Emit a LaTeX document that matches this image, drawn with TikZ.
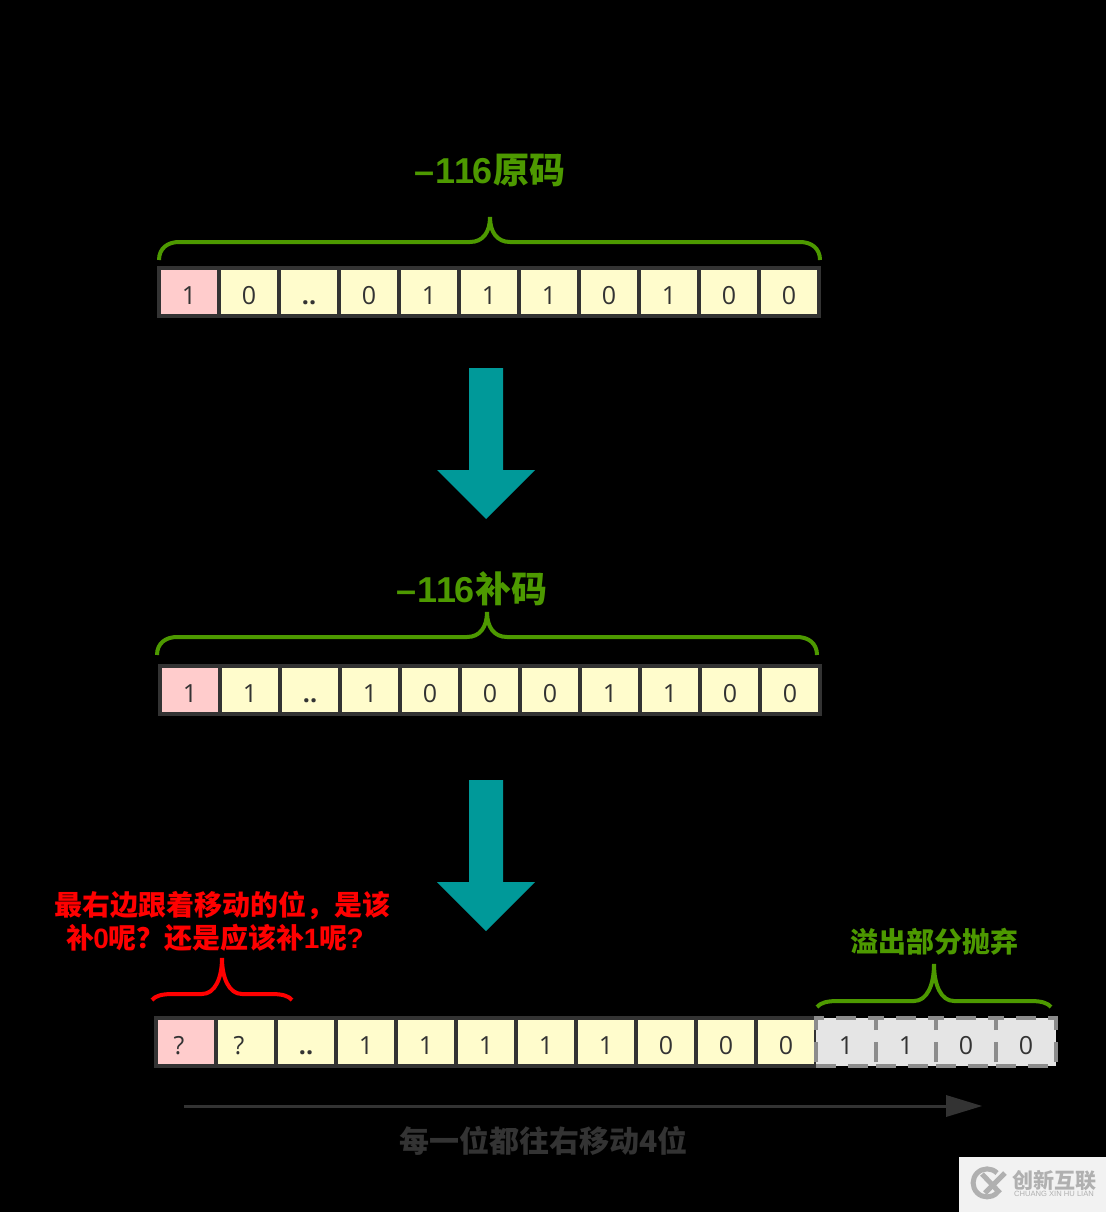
\documentclass[tikz,border=0pt]{standalone}
\usepackage{fontspec}
\setmainfont{Open Sans}
\newfontfamily\cjk{Noto Sans CJK SC}
\newfontfamily\lat{Liberation Sans}
\definecolor{gr}{HTML}{4D9900}
\definecolor{tealc}{HTML}{009999}
\definecolor{dk}{HTML}{333333}
\definecolor{wm}{HTML}{B0B0B0}
\tikzset{
  x=1pt,y=-1pt,
  cell/.style={draw=dk,line width=4pt,minimum width=60pt,minimum height=48pt,inner sep=0pt,outer sep=0pt,
    text=dk,font=\fontsize{25}{25}\selectfont,text height=24pt,text depth=0pt,anchor=center},
  yc/.style={cell,fill=yellow!20!white},
  pk/.style={cell,fill=red!20!white},
  gy/.style={cell,fill=black!10!white,draw=black!45!white,dash pattern=on 20pt off 12pt},
  bracegreen/.style={draw=gr,line width=4pt},
  bracered/.style={draw=red,line width=4pt},
  blockarrow/.style={fill=tealc,draw=none},
  greentitle/.style={text=gr,font=\cjk\bfseries\fontsize{36}{36}\selectfont,inner sep=0pt},
  greenlabel/.style={text=gr,font=\cjk\bfseries\fontsize{28}{28}\selectfont,inner sep=0pt},
  redlabel/.style={text=red,font=\cjk\bfseries\fontsize{28}{28}\selectfont,inner sep=0pt},
  graylabel/.style={text=dk,font=\cjk\bfseries\fontsize{30}{30}\selectfont,inner sep=0pt},
}
\newcommand{\minusnum}{{\lat\bfseries –\kern1pt 1\kern-2pt 1\kern-2pt 6}}
\newcommand{\dotsmark}{{\bfseries ..}}
\begin{document}
\begin{tikzpicture}
\useasboundingbox (0,0) rectangle (1106,1212);
\fill[black] (0,0) rectangle (1106,1212);

% row 1
\node[greentitle] (t1) at (490,171) {\minusnum\kern1pt 原码};
\draw[bracegreen] (159,260) .. controls (159,248) and (168,242) .. (179,242) -- (470,242)
  .. controls (483,242) and (490,232) .. (490,217) .. controls (490,232) and (497,242) .. (510,242)
  -- (800,242) .. controls (811,242) and (820,248) .. (820,260);
\foreach \i/\v/\s in {0/1/pk,1/0/yc,2/\dotsmark/yc,3/0/yc,4/1/yc,5/1/yc,6/1/yc,7/0/yc,8/1/yc,9/0/yc,10/0/yc}
  \node[\s] (a\i) at (189+60*\i,292) {\v};

% arrow 1
\fill[blockarrow] (469,368) -- (503,368) -- (503,470) -- (535,470) -- (486,519) -- (437,470) -- (469,470) -- cycle;

% row 2
\node[greentitle] (t2) at (472,589) {\minusnum\kern1pt 补码};
\draw[bracegreen] (157,655) .. controls (157,643) and (166,637) .. (177,637) -- (467,637)
  .. controls (480,637) and (487,627) .. (487,612) .. controls (487,627) and (494,637) .. (507,637)
  -- (797,637) .. controls (808,637) and (817,643) .. (817,655);
\foreach \i/\v/\s in {0/1/pk,1/1/yc,2/\dotsmark/yc,3/1/yc,4/0/yc,5/0/yc,6/0/yc,7/1/yc,8/1/yc,9/0/yc,10/0/yc}
  \node[\s] (b\i) at (190+60*\i,690) {\v};

% arrow 2
\fill[blockarrow] (469,780) -- (503,780) -- (503,882) -- (535,882) -- (486,931) -- (437,882) -- (469,882) -- cycle;

% row 3
\node[redlabel] (q1) at (222.5,905) {最右边跟着移动的位，是该};
\node[redlabel] (q2) at (215,938) {补{\lat\kern-1pt 0}呢？还是应该补{\lat\kern-1pt 1}呢{\lat\kern-1pt ?}};
\draw[bracered] (152,1000) .. controls (155,996) and (162,994) .. (172,994) -- (202,994)
  .. controls (215,994) and (222,978) .. (222,958) .. controls (222,978) and (229,994) .. (242,994)
  -- (272,994) .. controls (282,994) and (289,996) .. (292,1000);
\node[greenlabel] (ov) at (934,942) {溢出部分抛弃};
\draw[bracegreen] (817,1007) .. controls (820,1003) and (827,1001) .. (837,1001) -- (914,1001)
  .. controls (927,1001) and (934,985) .. (934,964) .. controls (934,985) and (941,1001) .. (954,1001)
  -- (1031,1001) .. controls (1041,1001) and (1048,1003) .. (1051,1007);
\foreach \i/\v/\s in {0/\kern-14pt ?/pk,1/\kern-14pt ?/yc,2/\dotsmark/yc,3/1/yc,4/1/yc,5/1/yc,6/1/yc,7/1/yc,8/0/yc,9/0/yc,10/0/yc}
  \node[\s] (c\i) at (186+60*\i,1042) {\v};
\foreach \i/\v in {11/1,12/1,13/0,14/0}
  \node[gy] (c\i) at (186+60*\i,1042) {\v};

% shift arrow
\coordinate (sa) at (184,1106);
\coordinate (sb) at (946,1106);
\draw[draw=dk,line width=3pt] (sa) -- (sb);
\fill[dk] (946,1095) -- (982,1106) -- (946,1117) -- cycle;
\node[graylabel] (sl) at (543.5,1141) {每一位都往右移动4位};

% watermark
\fill[black!5!white] (959,1157) rectangle (1106,1212);
\draw[wm,line width=5pt] (997,1173) arc[start angle=45,end angle=315,radius=14pt];
\draw[wm,line width=5pt] (982,1174) -- (1000,1193);
\draw[wm,line width=5pt] (1005,1173) -- (985,1193);
\node[text=wm,font=\cjk\bfseries\fontsize{21}{21}\selectfont,inner sep=0pt] (w1) at (1054,1181) {创新互联};
\node[text=wm,font=\lat\fontsize{7.6}{8}\selectfont,inner sep=0pt] (w2) at (1054,1194) {CHUANG XIN HU LIAN};
\end{tikzpicture}
\end{document}
